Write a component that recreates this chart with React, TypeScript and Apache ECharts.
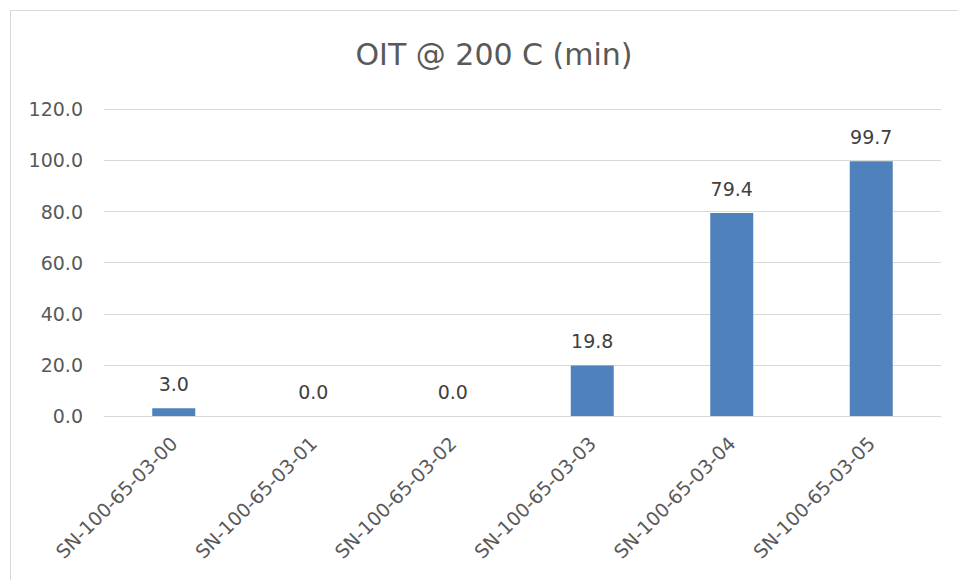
import React, { useEffect, useRef } from "react";
import * as echarts from "echarts";

const categories = [
  "SN-100-65-03-00",
  "SN-100-65-03-01",
  "SN-100-65-03-02",
  "SN-100-65-03-03",
  "SN-100-65-03-04",
  "SN-100-65-03-05",
];
const values = [3.0, 0.0, 0.0, 19.8, 79.4, 99.7];
const titleText = "OIT @ 200 C (min)";

export default function App() {
  const ref = useRef<HTMLDivElement>(null);
  useEffect(() => {
    if (!ref.current) return;
    const chart = echarts.init(ref.current, undefined, { renderer: "svg" });
    const font = "'DejaVu Sans', sans-serif";
    chart.setOption({
      animation: false,
      backgroundColor: "#ffffff",
      textStyle: { fontFamily: font },
      title: {
        text: titleText,
        left: 489,
        textAlign: "center",
        top: 34,
        textStyle: { fontFamily: font, fontSize: 30, fontWeight: "normal", color: "#595959" },
      },
      graphic: [
        {
          type: "rect",
          shape: { x: 10.5, y: 10.5, width: 960, height: 600 },
          style: { fill: "none", stroke: "#d9d9d9", lineWidth: 1 },
          silent: true,
        },
      ],
      grid: { left: 104, right: 17, top: 109.3, bottom: 164, containLabel: false },
      xAxis: {
        type: "category",
        data: categories,
        axisLine: { show: true, lineStyle: { color: "#d9d9d9", width: 1 } },
        axisTick: { show: false },
        axisLabel: {
          rotate: 45,
          interval: 0,
          margin: 24,
          color: "#595959",
          fontSize: 19,
          fontFamily: font,
        },
      },
      yAxis: {
        type: "value",
        min: 0,
        max: 120,
        interval: 20,
        axisLine: { show: false },
        axisTick: { show: false },
        splitLine: { lineStyle: { color: "#d9d9d9", width: 1 } },
        axisLabel: {
          color: "#595959",
          fontSize: 19,
          fontFamily: font,
          margin: 21,
          formatter: (v: number) => v.toFixed(1),
        },
      },
      series: [
        {
          type: "bar",
          data: values,
          barWidth: 43,
          itemStyle: { color: "#4f81bd" },
          label: {
            show: true,
            position: "top",
            distance: 15,
            color: "#404040",
            fontSize: 19,
            fontFamily: font,
            formatter: (p: any) => Number(p.value).toFixed(1),
          },
        },
      ],
    });
    return () => chart.dispose();
  }, []);
  return (
    <div
      ref={ref}
      style={{ position: "fixed", left: 0, top: 0, width: 958, height: 580 }}
    />
  );
}
